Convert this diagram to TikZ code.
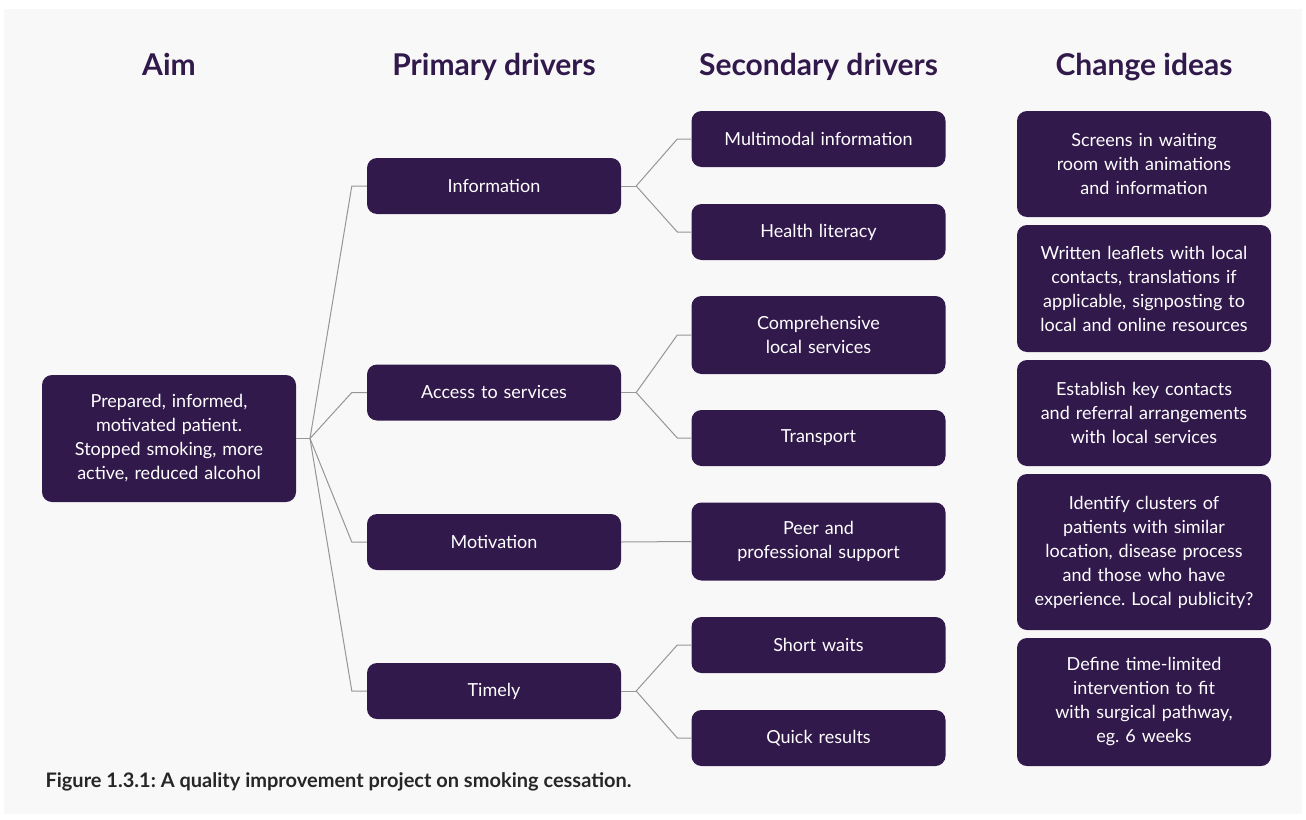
\documentclass[tikz,border=0pt]{standalone}
\usepackage{fontspec}
\setmainfont{Lato}
\frenchspacing
\definecolor{plum}{RGB}{50,25,76}
\definecolor{panel}{RGB}{248,248,248}
\definecolor{wire}{RGB}{150,150,150}
\tikzset{
  box/.style={rectangle,rounded corners=10pt,fill=plum,text=white,
    minimum width=254pt,minimum height=56pt,text width=234pt,align=center,
    inner sep=0pt,font=\fontsize{18}{24}\selectfont},
  head/.style={anchor=base,font=\fontsize{30}{34}\selectfont\bfseries,text=plum},
  wire/.style={draw=wire,line width=1pt}
}
\begin{document}
\begin{tikzpicture}[x=1pt,y=-1pt]

  \useasboundingbox (0,0) rectangle (1306,819);
  \fill[white] (0,0) rectangle (1306,819);
  \fill[panel] (4,9) rectangle (1302,814);

  % column titles
  \node[head] (hAim) at (169,75) {Aim};
  \node[head] (hPrim) at (494,75) {Primary drivers};
  \node[head] (hSec) at (818.5,75) {Secondary drivers};
  \node[head] (hIdea) at (1144,75) {Change ideas};

  % aim
  \node[box,minimum height=127pt] (aim) at (169,438.5)
    {Prepared, informed,\\motivated patient.\\Stopped smoking, more\\active, reduced alcohol};

  % primary drivers
  \node[box] (p1) at (494,186) {Information};
  \node[box] (p2) at (494,392.5) {Access to services};
  \node[box] (p3) at (494,542) {Motivation};
  \node[box] (p4) at (494,691) {Timely};

  % secondary drivers
  \node[box] (s1) at (818.5,139) {Multimodal information};
  \node[box] (s2) at (818.5,232) {Health literacy};
  \node[box,minimum height=78pt] (s3) at (818.5,335) {Comprehensive\\local services};
  \node[box] (s4) at (818.5,438) {Transport};
  \node[box,minimum height=78pt] (s5) at (818.5,541.5) {Peer and\\professional support};
  \node[box] (s6) at (818.5,645) {Short waits};
  \node[box] (s7) at (818.5,738) {Quick results};

  % change ideas
  \node[box,minimum height=106pt] (c1) at (1144,164)
    {Screens in waiting\\room with animations\\and information};
  \node[box,minimum height=127pt] (c2) at (1144,288.5)
    {Written leaflets with local\\contacts, translations if\\applicable, signposting to\\local and online resources};
  \node[box,minimum height=106pt] (c3) at (1144,413)
    {Establish key contacts\\and referral arrangements\\with local services};
  \node[box,minimum height=156pt] (c4) at (1144,552)
    {Identify clusters of\\patients with similar\\location, disease process\\and those who have\\experience. Local publicity?};
  \node[box,minimum height=128pt] (c5) at (1144,702)
    {Define time-limited\\intervention to fit\\with surgical pathway,\\eg. 6 weeks};

  % aim to primary drivers
  \coordinate (j0) at (310,438.5);
  \draw[wire] (aim.east) -- (j0);
  \foreach \p in {p1,p2,p3,p4}
    \draw[wire] (j0) -- ([xshift=-15pt]\p.west) -- (\p.west);

  % primary to secondary drivers
  \draw[wire] (p1.east) -- ++(15,0) coordinate (j1);
  \draw[wire] (j1) -- ([xshift=-14pt]s1.west) -- (s1.west);
  \draw[wire] (j1) -- ([xshift=-14pt]s2.west) -- (s2.west);
  \draw[wire] (p2.east) -- ++(15,0) coordinate (j2);
  \draw[wire] (j2) -- ([xshift=-14pt]s3.west) -- (s3.west);
  \draw[wire] (j2) -- ([xshift=-14pt]s4.west) -- (s4.west);
  \draw[wire] (p3.east) -- (s5.west);
  \draw[wire] (p4.east) -- ++(15,0) coordinate (j4);
  \draw[wire] (j4) -- ([xshift=-14pt]s6.west) -- (s6.west);
  \draw[wire] (j4) -- ([xshift=-14pt]s7.west) -- (s7.west);

  % caption
  \node[anchor=base west,font=\fontsize{20}{24}\selectfont\bfseries,text=black!85]
    (cap) at (42,787) {Figure 1.3.1: A quality improvement project on smoking cessation.};

\end{tikzpicture}
\end{document}
